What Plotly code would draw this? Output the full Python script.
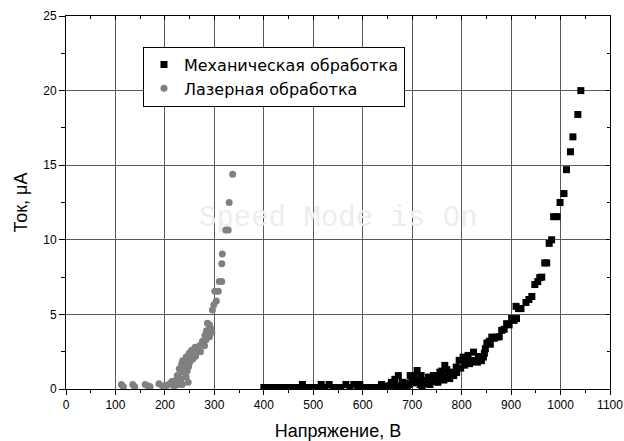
import plotly.graph_objects as go

# Механическая обработка (voltage, V ; current, uA)
mech_v = [400, 408, 416, 424, 432, 440, 448, 456, 464, 472, 478, 486, 494, 502, 510,
          516, 524, 532, 540, 548, 556, 566, 574, 582, 590, 594, 600, 608, 616, 624,
          632, 638, 646, 652, 658, 662, 665, 672, 678, 680, 686, 690, 696, 700, 706,
          710, 716, 722, 728, 733, 738, 743, 750, 756, 760, 766, 770, 775, 780, 789,
          795, 803, 808, 813, 818, 824, 828, 834, 840, 844, 851, 856, 861, 866, 871,
          876, 881, 886, 891, 896, 901, 906, 911, 910, 915, 920, 930, 936, 942, 948,
          954, 958, 962, 968, 972, 977, 982, 986, 993, 999, 1007, 1012, 1020, 1025,
          1035, 1041,
          650, 656, 668, 684, 694, 700, 704, 712, 718, 720, 726, 736, 744, 752, 760,
          764, 770, 776, 784, 790, 798, 806, 812, 816, 822, 832, 838, 846, 848, 858]
mech_i = [0.1, 0.1, 0.1, 0.1, 0.1, 0.1, 0.1, 0.1, 0.1, 0.1, 0.3, 0.1, 0.1, 0.1, 0.1,
          0.3, 0.1, 0.3, 0.1, 0.1, 0.1, 0.3, 0.1, 0.3, 0.1, 0.3, 0.1, 0.1, 0.1, 0.1,
          0.1, 0.3, 0.1, 0.1, 0.45, 0.35, 0.65, 0.9, 0.1, 0.45, 0.4, 0.2, 0.9, 0.5, 0.57,
          1.24, 0.3, 0.57, 0.5, 0.8, 0.6, 0.9, 0.7, 1.13, 0.7, 1.58, 0.8, 0.9, 1.13, 1.47,
          1.92, 2.14, 1.8, 2.25, 1.8, 2.47, 1.9, 2.18, 1.9, 2.14, 3.08, 3.2, 3.48, 3.4, 3.48,
          3.5, 3.93, 4.0, 4.38, 4.3, 4.72, 4.6, 4.72, 5.54, 5.39, 5.39, 5.8, 6.0, 6.2, 7.0,
          7.2, 7.47, 7.5, 8.45, 8.45, 9.76, 10.0, 11.55, 11.55, 12.5, 13.1, 14.7, 15.9, 16.9,
          18.4, 20.0,
          0.2, 0.25, 0.2, 0.2, 0.3, 0.4, 0.9, 0.45, 0.9, 0.2, 0.35, 0.3, 0.5, 0.45, 1.2,
          0.6, 1.3, 0.7, 0.9, 1.1, 1.4, 1.6, 2.0, 1.7, 1.9, 1.8, 2.0, 2.4, 2.7, 3.0]

# Лазерная обработка
laser_v = [112, 116, 135, 139, 160, 166, 170, 188, 195, 200, 205, 210, 214, 218, 220,
           222, 225, 227, 229, 231, 232, 234, 234, 235, 236, 238, 240, 241, 243, 243,
           245, 245, 247, 249, 250, 252, 254, 257, 260, 261, 265, 268, 270, 274, 276,
           278, 281, 283, 286, 288, 290, 292, 295, 286, 296, 299, 304, 301, 308, 310,
           315, 315, 316, 323, 328, 330, 337,
           248, 256, 262, 272, 280, 284, 290, 293]
laser_i = [0.3, 0.15, 0.3, 0.15, 0.3, 0.2, 0.15, 0.35, 0.2, 0.2, 0.25, 0.35, 0.5, 0.2, 0.55,
           0.25, 0.9, 0.3, 1.35, 0.7, 0.5, 1.15, 1.7, 0.3, 1.9, 1.6, 1.1, 1.45, 2.15, 0.8,
           1.9, 1.2, 0.45, 2.4, 1.8, 2.2, 2.6, 2.35, 2.5, 2.8, 2.6, 2.7, 2.9, 3.0, 3.2,
           3.1, 3.6, 3.3, 3.6, 3.9, 3.5, 4.1, 3.8, 4.4, 5.3, 5.65, 5.9, 6.55, 6.55, 7.2,
           7.2, 8.4, 9.05, 10.65, 10.65, 12.5, 14.4,
           1.5, 2.0, 2.2, 2.5, 2.9, 3.9, 4.3, 4.0]

x_range = [0, 1100]
y_range = [0, 25]
FONT = "Arial, Liberation Sans, sans-serif"

fig = go.Figure()
fig.add_trace(go.Scatter(x=mech_v, y=mech_i, mode="markers", name="Механическая обработка",
                         marker=dict(symbol="square", size=7, color="black")))
fig.add_trace(go.Scatter(x=laser_v, y=laser_i, mode="markers", name="Лазерная обработка",
                         marker=dict(symbol="circle", size=7, color="#808080")))
fig.add_trace(go.Scatter(x=[], y=[], xaxis="x2", yaxis="y2", showlegend=False, hoverinfo="skip"))

fig.update_layout(
    width=624, height=441,
    margin=dict(l=66, r=14, t=16, b=52),
    paper_bgcolor="white", plot_bgcolor="white",
    font=dict(family=FONT, color="black"),
    showlegend=True,
    legend=dict(x=0.1415, y=0.918, xanchor="left", yanchor="top",
                bgcolor="white", bordercolor="black", borderwidth=1,
                font=dict(size=16, family="DejaVu Sans, sans-serif", color="black")),
    xaxis=dict(range=x_range, dtick=100, tick0=0, showgrid=True, gridcolor="#5a5a5a", gridwidth=1,
               zeroline=False, showline=True, linecolor="black", linewidth=1, automargin=False,
               ticks="outside", ticklen=5, tickcolor="black",
               minor=dict(dtick=50, ticks="outside", ticklen=3, tickcolor="black", showgrid=False),
               tickfont=dict(size=12, color="black"),
               title=dict(text="Напряжение, В", font=dict(size=18, color="black"), standoff=12)),
    yaxis=dict(range=y_range, dtick=5, tick0=0, showgrid=True, gridcolor="#5a5a5a", gridwidth=1,
               zeroline=False, showline=True, linecolor="black", linewidth=1, automargin=False,
               ticks="outside", ticklen=6, tickcolor="black",
               minor=dict(dtick=2.5, ticks="outside", ticklen=4, tickcolor="black", showgrid=False),
               tickfont=dict(size=12, color="black"),
               title=dict(text="Ток, μA", font=dict(size=18, color="black"), standoff=10)),
    xaxis2=dict(overlaying="x", side="top", range=x_range, dtick=100, tick0=0, automargin=False,
                showgrid=False, zeroline=False, showline=True, linecolor="black",
                ticks="inside", ticklen=4, tickcolor="black", showticklabels=False,
                minor=dict(dtick=50, ticks="inside", ticklen=3, tickcolor="black", showgrid=False)),
    yaxis2=dict(overlaying="y", side="right", range=y_range, dtick=5, tick0=0, automargin=False,
                showgrid=False, zeroline=False, showline=True, linecolor="black",
                ticks="inside", ticklen=4, tickcolor="black", showticklabels=False,
                minor=dict(dtick=2.5, ticks="inside", ticklen=3, tickcolor="black", showgrid=False)),
    annotations=[dict(text="Speed Mode is On", xref="paper", yref="paper", x=0.5, y=0.458,
                      showarrow=False, font=dict(family="Liberation Mono, Courier New, monospace",
                                                 size=29, color="#ededed"))],
)

fig.write_html("out.html", config={"displayModeBar": False},
               post_script="document.body.style.margin='0';document.body.style.overflow='hidden';")
